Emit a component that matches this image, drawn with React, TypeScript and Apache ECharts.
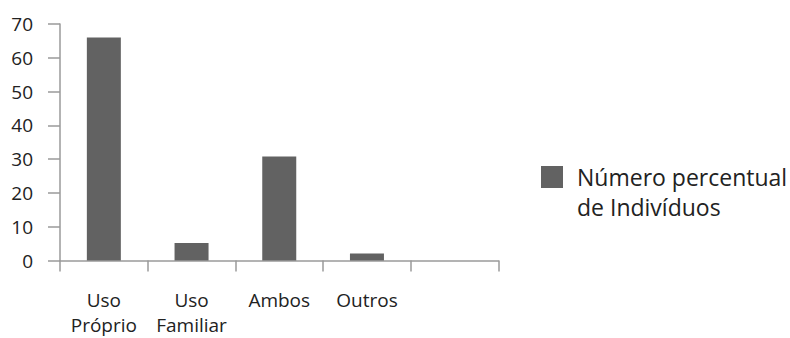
import React, { useEffect, useRef } from "react";
import * as echarts from "echarts";

const categories = ["Uso\nPróprio", "Uso\nFamiliar", "Ambos", "Outros", ""];
const values: (number | null)[] = [66, 5.2, 30.8, 2.1, null];
const seriesName = "Número percentual";
const legendSecondLine = "de Indivíduos";

export default function App() {
  const ref = useRef<HTMLDivElement>(null);
  useEffect(() => {
    if (!ref.current) return;
    const chart = echarts.init(ref.current, undefined, { renderer: "svg" });
    const font = "'Open Sans', sans-serif";
    const textColor = "#222";
    const axisColor = "#9a9a9a";
    chart.setOption({
      animation: false,
      grid: {
        left: 60,
        right: 291.5,
        top: 24,
        bottom: 77.5,
        containLabel: false,
        outerBoundsMode: "none",
      },
      legend: {
        show: true,
        data: [seriesName],
        left: 541,
        top: 165,
        itemWidth: 22,
        itemHeight: 22,
        icon: "rect",
        textStyle: {
          fontFamily: font,
          fontSize: 23,
          lineHeight: 24,
          color: textColor,
          padding: [0, 0, 0, 9],
        },
        padding: 0,
      },
      graphic: [
        {
          type: "text",
          left: 577,
          top: 195,
          style: { text: legendSecondLine, font: `23px ${font}`, fill: textColor },
        },
      ],
      xAxis: {
        type: "category",
        data: categories,
        boundaryGap: true,
        axisLine: { lineStyle: { color: axisColor, width: 1.5 } },
        axisTick: { show: true, length: 11, lineStyle: { color: axisColor, width: 1.5 } },
        axisLabel: {
          color: textColor,
          fontFamily: font,
          fontSize: 19,
          lineHeight: 25,
          margin: 27,
          interval: 0,
        },
      },
      yAxis: {
        type: "value",
        min: 0,
        max: 70,
        interval: 10,
        splitLine: { show: false },
        axisLine: { show: true, lineStyle: { color: axisColor, width: 1.5 } },
        axisTick: { show: true, length: 12, lineStyle: { color: axisColor, width: 1.5 } },
        axisLabel: { color: textColor, fontFamily: font, fontSize: 19, margin: 27 },
      },
      series: [
        {
          name: seriesName,
          type: "bar",
          data: values,
          barWidth: 34,
          itemStyle: { color: "#626262" },
        },
      ],
    });
    return () => chart.dispose();
  }, []);
  return <div ref={ref} style={{ width: 790, height: 338, position: "absolute", left: 0, top: 0 }} />;
}
